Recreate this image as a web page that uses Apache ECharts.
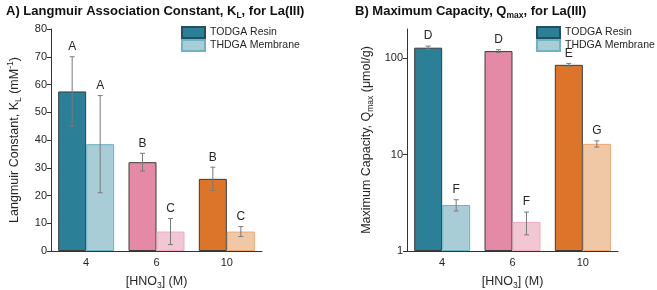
<!DOCTYPE html>
<html lang="en">
<head>
    <meta charset="UTF-8">
    <title>La(III) KL and Qmax</title>
    <script src="https://cdn.jsdelivr.net/npm/echarts@6/dist/echarts.min.js"></script>
</head>
<body style="margin:0">
<div id="main" style="width: 657px;height:290px;"></div>

<script type="text/javascript">
    // data
    var categories = ['4', '6', '10'];

    var kTodga = [57.5, 32, 26];
    var kTodgaErr = [12.5, 3.2, 4.2];
    var kThdga = [38.5, 7, 7];
    var kThdgaErr = [17.5, 4.7, 1.8];
    var kTodgaLetters = ['A', 'B', 'B'];
    var kThdgaLetters = ['A', 'C', 'C'];

    var qTodga = [128, 118, 85];
    var qTodgaErr = [5, 4, 3];
    var qThdga = [3.0, 2.0, 12.9];
    var qThdgaErr = [0.4, 0.53, 0.95];
    var qTodgaLetters = ['D', 'D', 'E'];
    var qThdgaLetters = ['F', 'F', 'G'];

    var kTicks = [0, 10, 20, 30, 40, 50, 60, 70, 80];
    var qTicks = [1, 10, 100];

    var darkColors = ['#2b7f97', '#e48aa7', '#dc7429'];
    var lightColors = ['#a9cdd7', '#f2c7d4', '#f1c8a5'];
    var lightBorders = ['#6db3c4', '#efa9be', '#f0a56d'];

    var font = 'Liberation Sans, Arial, sans-serif';
    var txt = '#262626';
    var half = 14;

    var myChart = echarts.init(document.getElementById('main'));

    function barData(vals, dark) {
        return vals.map(function (v, i) {
            return {
                value: v,
                itemStyle: dark
                    ? {color: darkColors[i], borderColor: '#3c3c3c'}
                    : {color: lightColors[i], borderColor: lightBorders[i]}
            };
        });
    }

    // error bar + letter, side -1 = TODGA bar, +1 = THDGA bar
    function errSeries(grid, vals, errs, letters, side) {
        return {
            type: 'custom',
            xAxisIndex: grid * 2,
            yAxisIndex: grid,
            z: 5,
            data: vals.map(function (v, i) { return [i, v, errs[i]]; }),
            encode: {x: 0, y: 1},
            renderItem: function (params, api) {
                var c = api.value(0), v = api.value(1), e = api.value(2);
                var hi = api.coord([c, v + e]);
                var lo = api.coord([c, v - e]);
                var x = hi[0] + side * half;
                var st = {stroke: '#7a7a7a', lineWidth: 1};
                return {
                    type: 'group',
                    children: [
                        {type: 'line', shape: {x1: x, y1: hi[1], x2: x, y2: lo[1]}, style: st},
                        {type: 'line', shape: {x1: x - 2.5, y1: hi[1], x2: x + 2.5, y2: hi[1]}, style: st},
                        {type: 'line', shape: {x1: x - 2.5, y1: lo[1], x2: x + 2.5, y2: lo[1]}, style: st},
                        {
                            type: 'text',
                            style: {
                                text: letters[params.dataIndex], x: x, y: hi[1] - 4,
                                align: 'center', verticalAlign: 'bottom',
                                fontSize: 12, fontFamily: font, fill: txt
                            }
                        }
                    ]
                };
            }
        };
    }

    var rich = {
        b: {fontSize: 13, fontWeight: 'bold', fontFamily: font, color: '#111'},
        bs: {fontSize: 8.5, fontWeight: 'bold', fontFamily: font, color: '#111', padding: [9, 0, 0, 0]}
    };

    var nameRich = {
        s: {fontSize: 8.5, fontFamily: font, color: txt, padding: [8, 0, 0, 0]},
        p: {fontSize: 8.5, fontFamily: font, color: txt, padding: [0, 0, 8, 0]}
    };

    function xAxes(grid) {
        return [{
            type: 'category', gridIndex: grid, data: categories,
            axisLine: {lineStyle: {color: '#333'}},
            axisTick: {length: 3, lineStyle: {color: '#333'}},
            axisLabel: {fontSize: 11, color: txt, fontFamily: font, margin: 6},
            name: '[HNO{s|3}] (M)', nameLocation: 'middle', nameGap: 22,
            nameTextStyle: {fontSize: 12.5, color: txt, fontFamily: font, rich: nameRich}
        }, {
            type: 'category', gridIndex: grid, data: categories,
            axisLine: {show: false},
            axisTick: {alignWithLabel: true, length: 4, lineStyle: {color: '#333'}},
            axisLabel: {show: false}
        }];
    }

    function legend(left, names) {
        return {
            left: left, top: 21, orient: 'vertical',
            itemWidth: 23, itemHeight: 11, itemGap: 0,
            icon: 'rect',
            textStyle: {fontSize: 10.5, lineHeight: 13, color: txt, fontFamily: font},
            data: names
        };
    }

    myChart.setOption({
        animation: false,
        title: [{
            text: '{b|A) Langmuir Association Constant, K}{bs|L}{b|, for La(III)}',
            left: 1, top: -3,
            textStyle: {rich: rich}
        }, {
            text: '{b|B) Maximum Capacity, Q}{bs|max}{b|, for La(III)}',
            left: 350, top: -3,
            textStyle: {rich: rich}
        }],
        legend: [
            legend(176, ['TODGA Resin', 'THDGA Membrane']),
            legend(531, ['TODGA Resin ', 'THDGA Membrane '])
        ],
        grid: [
            {left: 51, top: 29, width: 211, bottom: 39, outerBoundsMode: 'none'},
            {left: 407, top: 29, width: 211, bottom: 39, outerBoundsMode: 'none'}
        ],
        xAxis: xAxes(0).concat(xAxes(1)),
        yAxis: [{
            type: 'value', gridIndex: 0, min: 0, max: 80, interval: 10,
            splitLine: {show: false},
            axisLine: {show: true, lineStyle: {color: '#333'}},
            axisTick: {show: true, length: 4, lineStyle: {color: '#333'}},
            axisLabel: {fontSize: 11, color: txt, fontFamily: font, margin: 4,
                customValues: kTicks},
            name: 'Langmuir Constant, K{s|L} (mM{p|-1})',
            nameLocation: 'middle', nameGap: 28,
            nameTextStyle: {fontSize: 12.5, color: txt, fontFamily: font, rich: nameRich}
        }, {
            type: 'log', gridIndex: 1, min: 1, max: 200, logBase: 10,
            splitLine: {show: false},
            axisLine: {show: true, lineStyle: {color: '#333'}},
            axisTick: {show: true, length: 4, lineStyle: {color: '#333'}, customValues: qTicks},
            axisLabel: {fontSize: 11, color: txt, fontFamily: font, margin: 4,
                customValues: qTicks},
            name: 'Maximum Capacity, Q{s|max} (\u03bcmol/g)',
            nameLocation: 'middle', nameGap: 32,
            nameTextStyle: {fontSize: 12.5, color: txt, fontFamily: font, rich: nameRich}
        }],
        series: [{
            name: 'TODGA Resin', type: 'bar', xAxisIndex: 0, yAxisIndex: 0,
            barWidth: 28, barGap: '0%',
            itemStyle: {color: darkColors[0], borderColor: '#24505e', borderWidth: 1},
            data: barData(kTodga, true)
        }, {
            name: 'THDGA Membrane', type: 'bar', xAxisIndex: 0, yAxisIndex: 0,
            barWidth: 28, barGap: '0%',
            itemStyle: {color: lightColors[0], borderColor: lightBorders[0], borderWidth: 1},
            data: barData(kThdga, false)
        },
            errSeries(0, kTodga, kTodgaErr, kTodgaLetters, -1),
            errSeries(0, kThdga, kThdgaErr, kThdgaLetters, 1),
        {
            name: 'TODGA Resin ', type: 'bar', xAxisIndex: 2, yAxisIndex: 1,
            barWidth: 28, barGap: '0%',
            itemStyle: {color: darkColors[0], borderColor: '#24505e', borderWidth: 1},
            data: barData(qTodga, true)
        }, {
            name: 'THDGA Membrane ', type: 'bar', xAxisIndex: 2, yAxisIndex: 1,
            barWidth: 28, barGap: '0%',
            itemStyle: {color: lightColors[0], borderColor: lightBorders[0], borderWidth: 1},
            data: barData(qThdga, false)
        },
            errSeries(1, qTodga, qTodgaErr, qTodgaLetters, -1),
            errSeries(1, qThdga, qThdgaErr, qThdgaLetters, 1)
        ]
    });
</script>
</body>
</html>
